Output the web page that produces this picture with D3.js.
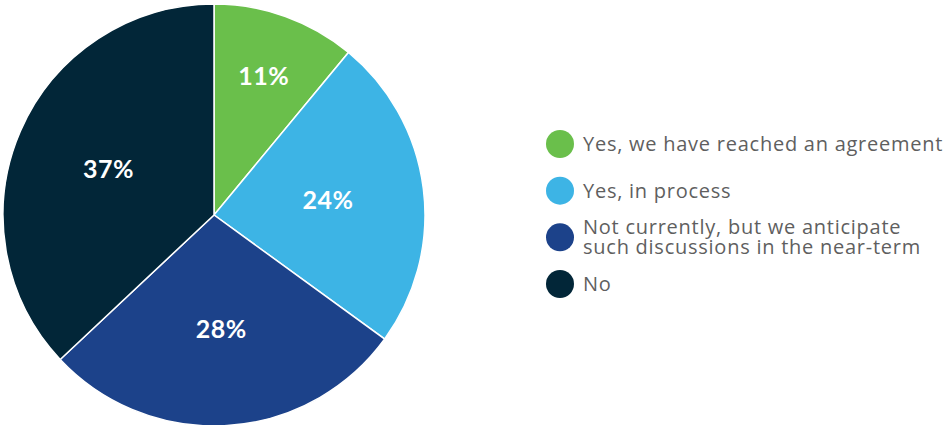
<!DOCTYPE html>
<html>
<head>
<meta charset="utf-8">
<script src="https://cdn.jsdelivr.net/npm/d3@7"></script>
<style>
  html, body { margin: 0; padding: 0; background: #fff; }
  svg { display: block; }
</style>
</head>
<body>
<svg></svg>
<script>
const width = 943;
const height = 425;

// data
const categories = ["Yes, we have reached an agreement", "Yes, in process", "Not currently, but we anticipate such discussions in the near-term", "No"];
const legendLines = [["Yes, we have reached an agreement"], ["Yes, in process"], ["Not currently, but we anticipate", "such discussions in the near-term"], ["No"]];
const values = [11, 24, 28, 37];
const colors = ["#6abf4b", "#3db4e5", "#1c428a", "#022638"];

const cx = 214;
const cy = 215;
const radius = 211;

const svg = d3.select('svg')
    .attr('width', width)
    .attr('height', height);

const pie = d3.pie()
    .sort(null)
    .value(d => d);

const arcs = pie(values);

const arc = d3.arc()
    .innerRadius(0)
    .outerRadius(radius);

// small slices get their label pushed outward
const labelArc = d => {
    const r = (d.endAngle - d.startAngle) < 0.9 ? 147 : 115;
    return d3.arc().innerRadius(r).outerRadius(r).centroid(d);
};

const g = svg.append('g')
    .attr('transform', 'translate(' + cx + ',' + cy + ')');

g.selectAll('.slice')
    .data(arcs)
    .enter()
    .append('path')
        .classed('slice', true)
        .attr('d', arc)
        .attr('fill', (d, i) => colors[i])
        .attr('stroke', '#fff')
        .attr('stroke-width', 1.5);

g.selectAll('.label')
    .data(arcs)
    .enter()
    .append('text')
        .classed('label', true)
        .text(d => d.data + '%')
        .attr('x', d => labelArc(d)[0])
        .attr('y', d => labelArc(d)[1])
        .attr('dy', '0.33em')
        .attr('text-anchor', 'middle')
        .attr('fill', '#fff')
        .attr('font-family', 'Lato, "Open Sans", sans-serif')
        .attr('font-weight', 'bold')
        .attr('font-size', '25px')
        .attr('letter-spacing', '0.5px');

// legend
const legendY = d3.scalePoint()
    .domain(categories)
    .range([144, 284]);

const legend = svg.selectAll('.legend')
    .data(categories)
    .enter()
    .append('g')
        .classed('legend', true)
        .attr('transform', d => 'translate(560,' + legendY(d) + ')');

legend.append('circle')
    .attr('r', 14)
    .attr('fill', (d, i) => colors[i]);

legend.append('text')
    .attr('x', 23)
    .attr('fill', '#5f5f5f')
    .attr('font-family', '"Open Sans", sans-serif')
    .attr('font-size', '20px')
    .attr('letter-spacing', '0.75px')
    .each(function (d, i) {
        const lines = legendLines[i];
        const t = d3.select(this);
        lines.forEach((line, j) => {
            t.append('tspan')
                .attr('x', 23)
                .attr('y', (j - (lines.length - 1) / 2) * 20)
                .attr('dy', '0.35em')
                .text(line);
        });
    });
</script>
</body>
</html>
